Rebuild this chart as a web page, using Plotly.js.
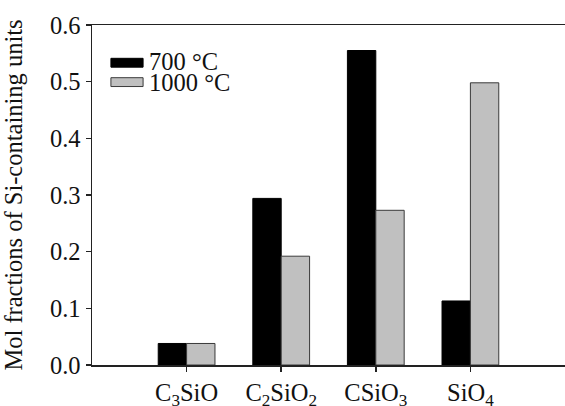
<!DOCTYPE html>
<html>
<head>
<meta charset="utf-8">
<script src="https://cdn.plot.ly/plotly-3.0.1.min.js"></script>
<style>
  html, body { margin: 0; padding: 0; background: #fff; }
  #chart { width: 565px; height: 406px; }
</style>
</head>
<body>
<div id="chart"></div>
<script>
// ---- data ----
var categories = ["C<sub>3</sub>SiO", "C<sub>2</sub>SiO<sub>2</sub>", "CSiO<sub>3</sub>", "SiO<sub>4</sub>"];
var categoryPositions = [1, 2, 3, 4];
var seriesNames = ["700 \u00B0C", "1000 \u00B0C"];
var values700 = [0.038, 0.294, 0.555, 0.113];
var values1000 = [0.038, 0.192, 0.273, 0.498];
var yTickVals = [0, 0.1, 0.2, 0.3, 0.4, 0.5, 0.6];
var yTickText = ["0.0", "0.1", "0.2", "0.3", "0.4", "0.5", "0.6"];
var yTitle = "Mol fractions of Si-containing units";

var FONT = "'Liberation Serif', 'Times New Roman', Times, serif";
var FS = 24.5;
var colors = ["#000000", "#c0c0c0"];
var outlines = ["#000000", "#3a3a3a"];

var traces = [
  {
    type: "bar", name: seriesNames[0], x: categoryPositions, y: values700,
    marker: { color: colors[0], line: { color: outlines[0], width: 1 } },
    showlegend: false, hoverinfo: "x+y"
  },
  {
    type: "bar", name: seriesNames[1], x: categoryPositions, y: values1000,
    marker: { color: colors[1], line: { color: outlines[1], width: 1 } },
    showlegend: false, hoverinfo: "x+y"
  }
];

// custom legend (wide swatches as in the reference)
var legX0 = 0.040, legX1 = 0.108, legTextX = 0.116;
var legRows = [
  { y0: 0.876, y1: 0.902, ty: 0.893 },
  { y0: 0.819, y1: 0.845, ty: 0.831 }
];
var shapes = [], annotations = [];
for (var i = 0; i < seriesNames.length; i++) {
  shapes.push({
    type: "rect", xref: "paper", yref: "paper",
    x0: legX0, x1: legX1, y0: legRows[i].y0, y1: legRows[i].y1,
    fillcolor: colors[i], line: { color: outlines[i], width: 1 }
  });
  annotations.push({
    xref: "paper", yref: "paper", x: legTextX, y: legRows[i].ty,
    xanchor: "left", yanchor: "middle", showarrow: false, height: 21,
    text: seriesNames[i], font: { family: FONT, size: FS, color: "#111" }
  });
}

var layout = {
  width: 565, height: 406,
  margin: { l: 92, r: 0, t: 25, b: 41, pad: 0 },
  paper_bgcolor: "#fff", plot_bgcolor: "#fff",
  font: { family: FONT, size: FS, color: "#111" },
  barmode: "group", bargap: 0.4, bargroupgap: 0,
  xaxis: {
    range: [0, 5], tickvals: categoryPositions, ticktext: categories,
    showgrid: false, zeroline: false,
    showline: true, linecolor: "#222", linewidth: 1.5, mirror: true,
    ticks: "outside", ticklen: 5, tickwidth: 1.5, tickcolor: "#222",
    tickfont: { family: FONT, size: FS, color: "#111" }
  },
  yaxis: {
    range: [0, 0.6], tickvals: yTickVals, ticktext: yTickText,
    showgrid: false, zeroline: false,
    showline: true, linecolor: "#222", linewidth: 1.5,
    ticks: "outside", ticklen: 5, tickwidth: 1.5, tickcolor: "#222",
    tickfont: { family: FONT, size: FS, color: "#111" },
    title: { text: yTitle, font: { family: FONT, size: FS, color: "#111" }, standoff: 20 }
  },
  shapes: shapes,
  annotations: annotations
};

Plotly.newPlot("chart", traces, layout, { staticPlot: true, displayModeBar: false });
</script>
</body>
</html>
